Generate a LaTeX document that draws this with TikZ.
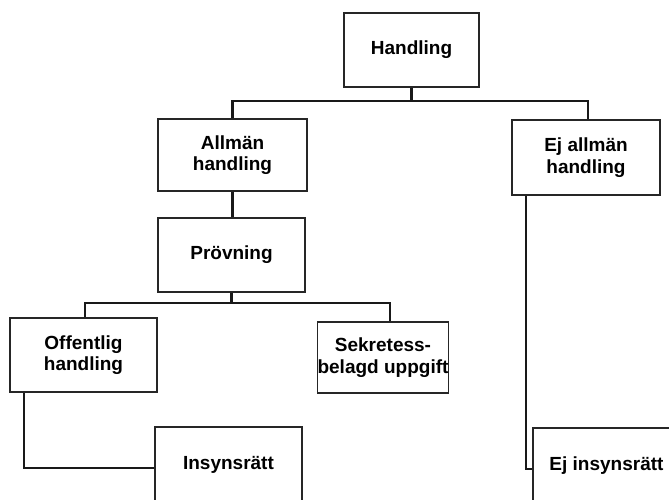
\documentclass[tikz,border=0pt]{standalone}
\usepackage{fontspec}
\setmainfont{Liberation Sans}
\begin{document}
\begin{tikzpicture}[x=1pt,y=-1pt,
  box/.style={draw=black!85, line width=1.3pt, rectangle, inner sep=0pt, align=center,
    font=\fontsize{19}{21.5}\selectfont\bfseries},
  conn/.style={draw=black!90, line width=2.2pt}]
\useasboundingbox (0,0) rectangle (669,499);
\clip (0,0) rectangle (669,499);
\fill[white] (0,0) rectangle (669,499);
\node[box, minimum width=135pt, minimum height=74pt] (hand) at (411.5,50) {Handling};
\node[box, minimum width=149pt, minimum height=72pt] (allm) at (232.5,155) {Allmän\\handling};
\node[box, minimum width=147pt, minimum height=74pt] (prov) at (231.5,255) {Prövning};
\node[box, minimum width=148pt, minimum height=75pt] (ejal) at (586,157.5) {Ej allmän\\handling};
\node[box, minimum width=147pt, minimum height=74pt] (off) at (83.5,355) {Offentlig\\handling};
\node[box, minimum width=130pt, minimum height=71pt] (sek) at (383,357.5) {Sekretess-\\belagd uppgift};
\node[box, minimum width=147pt, minimum height=76pt] (ins) at (228.5,465) {Insynsrätt};
\node[box, minimum width=147pt, minimum height=76pt] (ejins) at (606.5,466) {Ej insynsrätt};
\coordinate (b1) at (0,101);
\coordinate (b2) at (0,303);
\draw[conn] (hand.south) -- (hand.south |- b1);
\draw[conn] (allm.north) -- (allm.north |- b1) -- ([xshift=2pt]ejal.north |- b1) -- ([xshift=2pt]ejal.north);
\draw[conn] (allm.south) -- (allm.south |- prov.north);
\draw[conn] (prov.south) -- (prov.south |- b2);
\draw[conn] ([xshift=1.5pt]off.north) -- ([xshift=1.5pt]off.north |- b2) -- ([xshift=7pt]sek.north |- b2) -- ([xshift=7pt]sek.north);
\draw[conn] ([xshift=15pt]off.south west) |- ([yshift=-3pt]ins.west);
\draw[conn] ([xshift=15pt]ejal.south west) |- ([yshift=-3pt]ejins.west);
\end{tikzpicture}
\end{document}
